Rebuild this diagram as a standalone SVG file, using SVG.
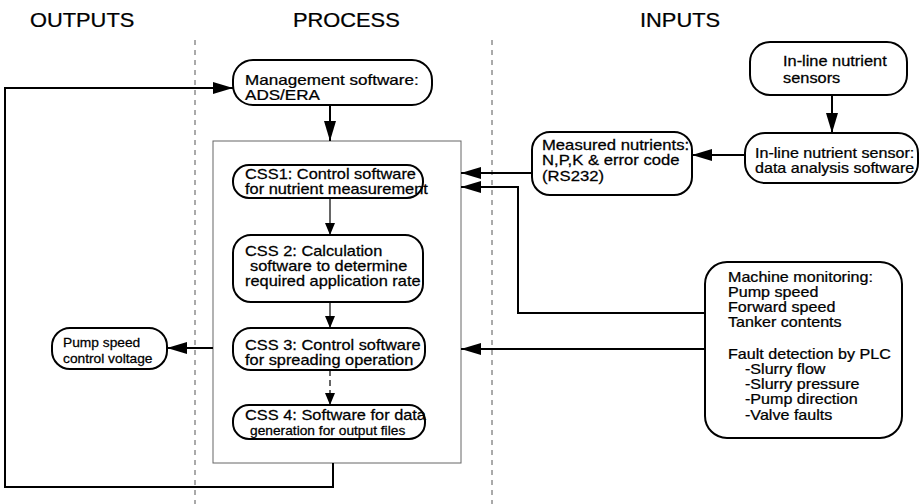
<svg xmlns="http://www.w3.org/2000/svg" width="920" height="504" viewBox="0 0 920 504">
<defs>
<style>
text{font-family:"Liberation Sans",Arial,sans-serif;fill:#000;stroke:#000;stroke-width:0.25}
.h{font-size:19.5px}
.t{font-size:14px}
.s{font-size:13px}
.box{fill:#fff;stroke:#000;stroke-width:2}
.con{fill:none;stroke:#000;stroke-width:2}
.thin{fill:none;stroke:#000;stroke-width:1.2}
.div{fill:none;stroke:#555;stroke-width:1;stroke-dasharray:5 5}
</style>
<marker id="big" markerUnits="userSpaceOnUse" markerWidth="20" markerHeight="12" refX="20" refY="6" orient="auto"><path d="M0,0 L20,6 L0,12 z" fill="#000"/></marker>
<marker id="sm" markerUnits="userSpaceOnUse" markerWidth="12" markerHeight="10" refX="12" refY="5" orient="auto"><path d="M0,0 L12,5 L0,10 z" fill="#000"/></marker>
</defs>
<rect width="920" height="504" fill="#fff"/>
<g id="headers">
<text class="h" transform="translate(30,27) scale(1.12,1)">OUTPUTS</text>
<text class="h" transform="translate(293,27) scale(1.12,1)">PROCESS</text>
<text class="h" transform="translate(640,27) scale(1.12,1)">INPUTS</text>
</g>
<g id="dividers">
<line class="div" x1="195" y1="40" x2="195" y2="504"/>
<line class="div" x1="492" y1="40" x2="492" y2="504"/>
</g>
<g id="container"><rect x="213" y="141" width="248" height="322" fill="none" stroke="#666" stroke-width="1"/></g>
<g id="connectors">
<path class="con" d="M333,463 V487 H5 V88 H233" marker-end="url(#big)"/>
<path class="con" d="M330,105 V141" marker-end="url(#big)"/>
<path class="thin" d="M330,198 V235" marker-end="url(#sm)"/>
<path class="thin" d="M330,302 V328" marker-end="url(#sm)"/>
<path class="thin" d="M330,370 V405" stroke-dasharray="6 4" marker-end="url(#sm)"/>
<path class="con" d="M213,348 H167" marker-end="url(#big)"/>
<path class="con" d="M832,95 V133" marker-end="url(#big)"/>
<path class="con" d="M745,155 H692" marker-end="url(#big)"/>
<path class="con" d="M532,173 H461" marker-end="url(#big)"/>
<path class="con" d="M705,313 H518 V187 H461" marker-end="url(#big)"/>
<path class="con" d="M705,349 H461" marker-end="url(#big)"/>
</g>
<g id="mgmt">
<rect class="box" x="233" y="60" width="199" height="45" rx="20"/>
<text class="t" transform="translate(245,85) scale(1.22,1)">Management software:</text>
<text class="t" transform="translate(245,100) scale(1.22,1)">ADS/ERA</text>
</g>
<g id="css1">
<rect class="box" x="233" y="165" width="190" height="33" rx="16"/>
<text class="t" transform="translate(245,179) scale(1.17,1)">CSS1: Control software</text>
<text class="t" transform="translate(245,194) scale(1.17,1)">for nutrient measurement</text>
</g>
<g id="css2">
<rect class="box" x="233" y="235" width="190" height="67" rx="18"/>
<text class="t" transform="translate(245,256) scale(1.17,1)">CSS 2: Calculation</text>
<text class="t" transform="translate(250,271) scale(1.17,1)">software to determine</text>
<text class="t" transform="translate(245,286) scale(1.17,1)">required application rate</text>
</g>
<g id="css3">
<rect class="box" x="233" y="328" width="192" height="42" rx="18"/>
<text class="t" transform="translate(245,350) scale(1.17,1)">CSS 3: Control software</text>
<text class="t" transform="translate(245,365) scale(1.17,1)">for spreading operation</text>
</g>
<g id="css4">
<rect class="box" x="233" y="405" width="192" height="34" rx="16"/>
<text class="t" transform="translate(245,420) scale(1.17,1)">CSS 4: Software for data</text>
<text class="s" transform="translate(250,435) scale(1.06,1)">generation for output files</text>
</g>
<g id="pump">
<rect class="box" x="52" y="328" width="115" height="41" rx="18"/>
<text class="s" transform="translate(63,347) scale(1.06,1)">Pump speed</text>
<text class="s" transform="translate(63,363) scale(1.06,1)">control voltage</text>
</g>
<g id="sensors">
<rect class="box" x="750" y="42" width="157" height="53" rx="20"/>
<text class="t" transform="translate(783,66) scale(1.17,1)">In-line nutrient</text>
<text class="t" transform="translate(783,83) scale(1.17,1)">sensors</text>
</g>
<g id="sensorsw">
<rect class="box" x="745" y="133" width="173" height="50" rx="20"/>
<text class="t" transform="translate(755,158) scale(1.15,1)">In-line nutrient sensor:</text>
<text class="t" transform="translate(755,173) scale(1.15,1)">data analysis software</text>
</g>
<g id="measured">
<rect class="box" x="532" y="132" width="160" height="63" rx="18"/>
<text class="t" transform="translate(542,150) scale(1.19,1)">Measured nutrients:</text>
<text class="t" transform="translate(542,165) scale(1.19,1)">N,P,K &amp; error code</text>
<text class="t" transform="translate(542,181) scale(1.19,1)">(RS232)</text>
</g>
<g id="machine">
<rect class="box" x="705" y="262" width="197" height="176" rx="22"/>
<text class="t" transform="translate(728,282) scale(1.15,1)">Machine monitoring:</text>
<text class="t" transform="translate(728,297) scale(1.15,1)">Pump speed</text>
<text class="t" transform="translate(728,312) scale(1.15,1)">Forward speed</text>
<text class="t" transform="translate(728,327) scale(1.15,1)">Tanker contents</text>
<text class="t" transform="translate(728,359) scale(1.15,1)">Fault detection by PLC</text>
<text class="t" transform="translate(745,374) scale(1.15,1)">-Slurry flow</text>
<text class="t" transform="translate(745,389) scale(1.15,1)">-Slurry pressure</text>
<text class="t" transform="translate(745,404) scale(1.15,1)">-Pump direction</text>
<text class="t" transform="translate(745,420) scale(1.15,1)">-Valve faults</text>
</g>
</svg>
